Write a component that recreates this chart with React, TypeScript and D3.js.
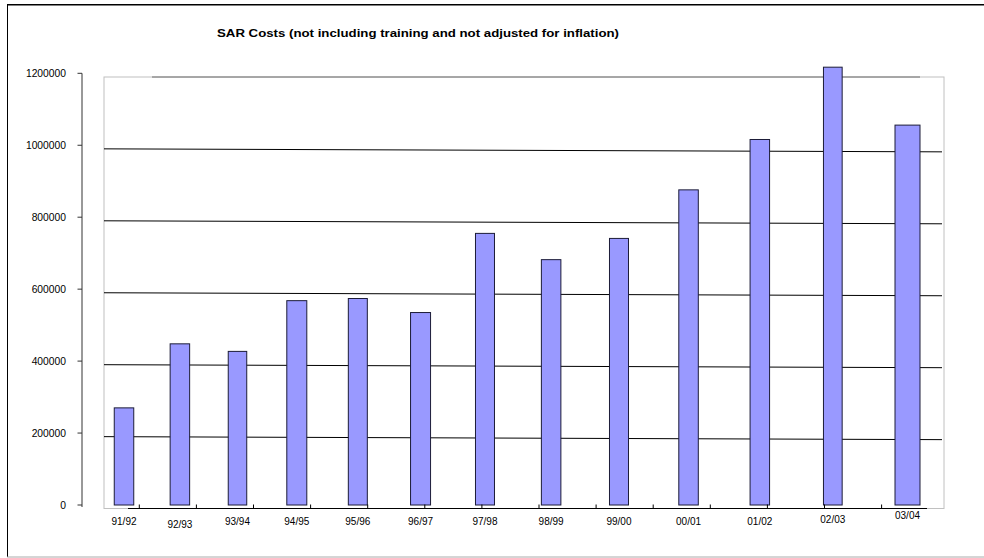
import React from "react";
import * as d3 from "d3";

const categories = ["91/92", "92/93", "93/94", "94/95", "95/96", "96/97", "97/98", "98/99", "99/00", "00/01", "01/02", "02/03", "03/04"];
const costs = [270000, 448000, 427000, 568000, 574000, 535000, 755000, 682000, 741000, 876000, 1016000, 1217000, 1056000];
const yTicks = [0, 200000, 400000, 600000, 800000, 1000000, 1200000];
const title = "SAR Costs (not including training and not adjusted for inflation)";

// layout constants (not data)
const W = 984;
const H = 558;
const labelDy = [0, 3, 0, 0, 0, 0, 0, 0, 0, 0, 0, -2, -6];
const barWidths = [19.5, 19.5, 18.5, 20, 19, 20, 19, 19.5, 19, 19.5, 19.5, 18.7, 25];

export default function App() {
  const y = d3.scaleLinear().domain([0, 1200000]).range([505, 73.3]);
  // scanned chart: bar spacing grows slightly to the right
  const skew = 32.2;
  const xPos = d3
    .scalePow()
    .exponent(2)
    .domain([skew, skew + categories.length - 1])
    .range([124, 907.5]);
  const cx = (i: number) => xPos(i + skew);
  const boundary = d3.scaleLinear().domain([0, 13]).range([139.3, 881.6]);
  const font = "Liberation Sans, Arial, sans-serif";

  return (
    <svg width={W} height={H} style={{ position: "absolute", left: 0, top: 0, background: "#fff" }}>
      {/* outer frame */}
      <line x1={7} y1={4.8} x2={W} y2={4.8} stroke="#000" strokeWidth={1.6} />
      <line x1={7.5} y1={4} x2={7.5} y2={557} stroke="#000" strokeWidth={1} />
      <line x1={7} y1={557} x2={W} y2={557} stroke="#aaa" strokeWidth={1} />

      {/* title */}
      <text
        x={217}
        y={37}
        fontFamily={font}
        fontWeight="bold"
        fontSize={11.5}
        fill="#000"
        textLength={402}
        lengthAdjust="spacingAndGlyphs"
      >
        {title}
      </text>

      {/* plot area border */}
      <rect x={104} y={77} width={840} height={431.5} fill="none" stroke="#c0c0c0" strokeWidth={1} />

      {/* gridlines */}
      {yTicks
        .filter((t) => t > 0 && t < 1200000)
        .map((t) => (
          <line key={t} x1={104} y1={y(t) + 3.6} x2={942} y2={y(t) + 6.6} stroke="#000" strokeWidth={1} />
        ))}
      <line x1={152} y1={y(1200000) + 3.7} x2={920} y2={y(1200000) + 3.7} stroke="#6e6e6e" strokeWidth={1} />

      {/* y axis */}
      <line x1={82} y1={y(1200000)} x2={82} y2={507} stroke="#333" strokeWidth={1} />
      {yTicks.map((t) => (
        <g key={t}>
          <line x1={77.5} y1={y(t)} x2={82} y2={y(t)} stroke="#333" strokeWidth={1} />
          <text x={66} y={y(t) + 3.5} textAnchor="end" fontFamily={font} fontSize={10.3} fill="#000">
            {t}
          </text>
        </g>
      ))}

      {/* bars */}
      {costs.map((v, i) => (
        <rect
          key={categories[i]}
          x={cx(i) - barWidths[i] / 2}
          y={y(v)}
          width={barWidths[i]}
          height={y(0) - y(v)}
          fill="#9999ff"
          stroke="#1c1c38"
          strokeWidth={1}
        />
      ))}

      {/* x axis */}
      <line x1={128} y1={508.5} x2={927} y2={508.5} stroke="#000" strokeWidth={1} />
      {d3.range(14).map((k) => (
        <line key={k} x1={boundary(k)} y1={504.5} x2={boundary(k)} y2={508.5} stroke="#000" strokeWidth={1} />
      ))}
      {categories.map((c, i) => (
        <text
          key={c}
          x={cx(i)}
          y={525 + labelDy[i]}
          textAnchor="middle"
          fontFamily={font}
          fontSize={10}
          fill="#000"
        >
          {c}
        </text>
      ))}
    </svg>
  );
}
